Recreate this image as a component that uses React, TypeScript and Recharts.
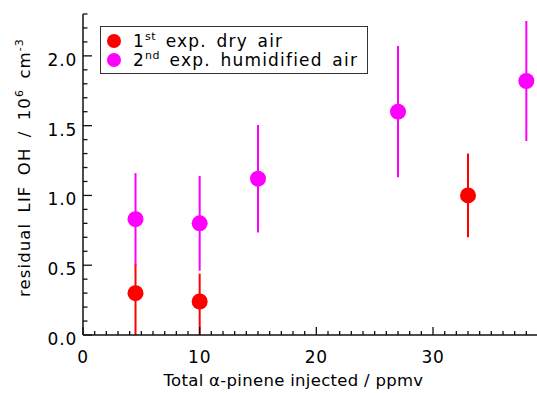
import React from 'react';
import { ScatterChart, Scatter, XAxis, YAxis, ErrorBar, Label } from 'recharts';

// 1st experiment, dry air
const dryX = [4.5, 10, 33];
const dryY = [0.3, 0.24, 1.0];
const dryErrLow = [0.3, 0.24, 0.3];
const dryErrHigh = [0.21, 0.2, 0.3];

// 2nd experiment, humidified air
const humX = [4.5, 10, 15, 27, 38];
const humY = [0.83, 0.8, 1.12, 1.6, 1.82];
const humErr = [0.33, 0.34, 0.385, 0.47, 0.43];

const xMajor = [0, 10, 20, 30];
const yMajor = [0, 0.5, 1.0, 1.5, 2.0];
const xMinorStep = 1;
const yMinorStep = 0.1;
const xMax = 39;
const yMax = 2.3;

const series = [
  { name: '1st', sup: 'st', lead: '1', text: 'exp. dry air', color: '#ff0000' },
  { name: '2nd', sup: 'nd', lead: '2', text: 'exp. humidified air', color: '#ff00ff' },
];

const dryData = dryX.map((x, i) => ({ x, y: dryY[i], err: [dryErrLow[i], dryErrHigh[i]] }));
const humData = humX.map((x, i) => ({ x, y: humY[i], err: [humErr[i], humErr[i]] }));

const xTicks: number[] = [];
for (let i = 0; i * xMinorStep <= xMax; i++) xTicks.push(i * xMinorStep);
const yTicks: number[] = [];
for (let i = 0; i * yMinorStep <= yMax + 1e-9; i++) yTicks.push(Math.round(i * yMinorStep * 10) / 10);

const FONT = '"DejaVu Sans", sans-serif';
const AXIS = '#111';
const isMajor = (v: number, majors: number[]) => majors.some(m => Math.abs(m - v) < 1e-6);

const BottomTick = (props: any) => {
  const { x, y, payload } = props;
  const major = isMajor(payload.value, xMajor);
  return (
    <g>
      <line x1={x} x2={x} y1={y} y2={y - (major ? 8 : 4)} stroke={AXIS} strokeWidth={1.3} />
      {major && (
        <text x={x} y={y + 28} textAnchor="middle" fontSize={17} fontFamily={FONT} fill="#000" letterSpacing={0.8}>
          {payload.value}
        </text>
      )}
    </g>
  );
};

const TopTick = (props: any) => {
  const { x, y, payload } = props;
  const major = isMajor(payload.value, xMajor);
  return <line x1={x} x2={x} y1={y} y2={y + (major ? 7 : 4)} stroke={AXIS} strokeWidth={1.3} />;
};

const LeftTick = (props: any) => {
  const { x, y, payload } = props;
  const major = isMajor(payload.value, yMajor);
  return (
    <g>
      <line x1={x} x2={x + (major ? 9 : 4.5)} y1={y} y2={y} stroke={AXIS} strokeWidth={1.3} />
      {major && (
        <text x={x - 6} y={y + 10} textAnchor="end" fontSize={17} fontFamily={FONT} fill="#000" letterSpacing={0.8}>
          {payload.value.toFixed(1)}
        </text>
      )}
    </g>
  );
};

const RightTick = (props: any) => {
  const { x, y, payload } = props;
  const major = isMajor(payload.value, yMajor);
  return <line x1={x} x2={x - (major ? 8 : 4)} y1={y} y2={y} stroke={AXIS} strokeWidth={1.3} />;
};

const XTitle = (props: any) => {
  const vb = props.viewBox;
  return (
    <text x={vb.x + vb.width / 2 - 17} y={vb.y + 51} textAnchor="middle" fontSize={16.5} fontFamily={FONT} fill="#000" letterSpacing={0.3}>
      Total α-pinene injected / ppmv
    </text>
  );
};

const YTitle = (props: any) => {
  const vb = props.viewBox;
  const cx = vb.x + 30;
  const cy = vb.y + vb.height / 2 - 7;
  return (
    <text
      x={cx}
      y={cy}
      transform={`rotate(-90, ${cx}, ${cy})`}
      textAnchor="middle"
      fontSize={16.5}
      fontFamily={FONT}
      fill="#000"
      letterSpacing={1.1}
      wordSpacing={4}
    >
      <tspan>residual LIF OH / 10</tspan>
      <tspan fontSize={11} dy={-7}>6</tspan>
      <tspan dy={7}> cm</tspan>
      <tspan fontSize={11} dy={-7}>-3</tspan>
    </text>
  );
};

const dot = (color: string) => (props: any) => <circle cx={props.cx} cy={props.cy} r={8} fill={color} />;

export default function App() {
  return (
    <div style={{ position: 'absolute', left: 0, top: 0, width: 537, height: 393, overflow: 'hidden', background: '#fff' }}>
      <ScatterChart width={545} height={393} margin={{ top: 14, right: 7, bottom: 1, left: 0 }}>
        <XAxis
          xAxisId="b"
          type="number"
          dataKey="x"
          domain={[0, xMax]}
          ticks={xTicks}
          interval={0}
          height={57}
          tickSize={0}
          tickMargin={0}
          tickLine={false}
          tick={<BottomTick />}
          axisLine={{ stroke: AXIS, strokeWidth: 1.5 }}
        >
          <Label content={<XTitle />} />
        </XAxis>
        <XAxis
          xAxisId="t"
          orientation="top"
          type="number"
          dataKey="x"
          domain={[0, xMax]}
          ticks={xTicks}
          interval={0}
          height={0}
          tickSize={0}
          tickMargin={0}
          tickLine={false}
          tick={<TopTick />}
          axisLine={{ stroke: AXIS, strokeWidth: 1.5 }}
        />
        <YAxis
          yAxisId="l"
          type="number"
          dataKey="y"
          domain={[0, yMax]}
          ticks={yTicks}
          interval={0}
          width={83}
          tickSize={0}
          tickMargin={0}
          tickLine={false}
          tick={<LeftTick />}
          axisLine={{ stroke: AXIS, strokeWidth: 1.5 }}
        >
          <Label content={<YTitle />} />
        </YAxis>
        <YAxis
          yAxisId="r"
          orientation="right"
          type="number"
          dataKey="y"
          domain={[0, yMax]}
          ticks={yTicks}
          interval={0}
          width={0}
          tickSize={0}
          tickMargin={0}
          tickLine={false}
          tick={<RightTick />}
          axisLine={{ stroke: AXIS, strokeWidth: 1.5 }}
        />
        <Scatter xAxisId="b" yAxisId="l" data={dryData} fill={series[0].color} shape={dot(series[0].color)} isAnimationActive={false}>
          <ErrorBar dataKey="err" direction="y" width={0} stroke={series[0].color} strokeWidth={2} isAnimationActive={false} />
        </Scatter>
        <Scatter xAxisId="b" yAxisId="l" data={humData} fill={series[1].color} shape={dot(series[1].color)} isAnimationActive={false}>
          <ErrorBar dataKey="err" direction="y" width={0} stroke={series[1].color} strokeWidth={2} isAnimationActive={false} />
        </Scatter>
      </ScatterChart>
      <div
        style={{
          position: 'absolute',
          left: 100,
          top: 26,
          width: 268,
          height: 48,
          boxSizing: 'border-box',
          border: '1px solid #333',
          background: '#fff',
          fontFamily: FONT,
          fontSize: 17,
          color: '#000',
          letterSpacing: 1.2,
          wordSpacing: 3,
        }}
      >
        {series.map((s, i) => (
          <div key={s.name} style={{ position: 'absolute', left: 0, top: 5 + i * 19, height: 18, lineHeight: '18px', whiteSpace: 'nowrap' }}>
            <span style={{ position: 'absolute', left: 6, top: 2, width: 14, height: 14, borderRadius: 7, background: s.color }} />
            <span style={{ position: 'absolute', left: 32, top: 0 }}>
              {s.lead}
              <span style={{ fontSize: 11, position: 'relative', top: -7, letterSpacing: 0.5 }}>{s.sup}</span>
              {' '}{s.text}
            </span>
          </div>
        ))}
      </div>
    </div>
  );
}
